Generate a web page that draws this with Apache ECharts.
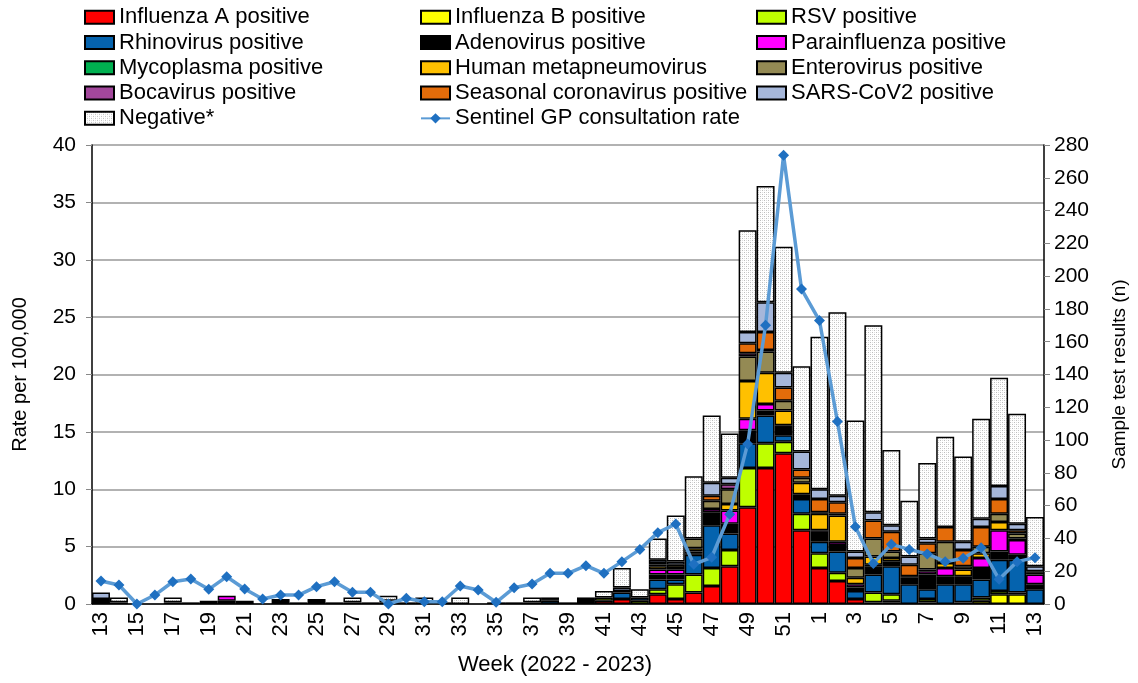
<!DOCTYPE html>
<html>
<head>
<meta charset="utf-8">
<script src="https://cdn.jsdelivr.net/npm/echarts/dist/echarts.min.js"></script>
<style>
  html, body { margin: 0; padding: 0; background: #fff; }
  #chart { width: 1138px; height: 683px; }
</style>
</head>
<body>
<div id="chart"></div>
<script>
// weeks 13-52 of 2022, then 1-13 of 2023
const weeks = ["13","14","15","16","17","18","19","20","21","22","23","24","25","26","27","28","29","30","31","32",
  "33","34","35","36","37","38","39","40","41","42","43","44","45","46","47","48","49","50","51","52",
  "1","2","3","4","5","6","7","8","9","10","11","12","13"];

// sample test results (n)
const fluA    = [0,0,0,0,0,0,0,0,0,0,0,0,0,0,0,0,0,0,0,0,0,0,0,0,0,0,0,0,2,3,0,6,3,7,11,23,59,83,92,45,22,14,3,1,1,0,0,0,0,0,0,0,0];
const fluB    = [0,0,0,0,0,0,0,0,0,0,0,0,0,0,0,0,0,0,0,0,0,0,0,0,0,0,0,0,0,0,0,0,0,0,0,0,0,0,0,0,0,0,0,0,1,0,1,0,1,2,6,6,0];
const rsv     = [0,0,0,0,0,0,0,0,0,0,0,0,0,0,0,0,1,0,0,0,0,0,0,0,0,0,0,0,2,0,2,3,9,11,11,10,24,15,7,10,9,5,0,6,4,0,2,0,0,2,2,1,0];
const rhino   = [0,0,0,0,0,0,0,0,0,0,0,0,0,0,0,0,0,0,0,0,0,0,0,0,0,2,0,0,0,4,2,6,3,12,26,10,15,17,4,9,7,13,5,11,17,12,6,12,11,11,19,20,9];
const adeno   = [3,1,0,0,0,1,2,2,2,0,3,1,3,0,1,1,1,1,1,1,0,0,1,0,1,1,1,3,0,1,0,3,3,1,8,6,8,3,6,3,6,4,2,5,2,4,9,5,5,7,5,3,3];
const para    = [0,0,0,0,0,0,0,3,0,0,0,0,0,0,0,0,0,0,0,0,0,0,0,0,0,0,0,0,0,0,0,3,3,1,2,8,7,4,0,0,1,2,2,1,1,0,2,5,0,6,13,9,6];
const myco    = [0,0,0,0,0,0,0,0,0,0,0,0,0,0,0,0,0,0,0,0,0,0,0,0,0,0,0,0,0,0,0,0,0,0,0,0,0,0,0,0,0,0,0,0,0,0,0,0,0,0,0,0,0];
const hmpv    = [0,0,0,0,0,0,0,0,0,0,0,0,0,0,0,0,0,0,0,0,0,0,0,0,0,0,0,0,0,0,0,2,1,2,0,4,23,19,9,7,10,16,4,5,2,1,1,3,4,3,5,1,1];
const entero  = [0,0,0,0,1,0,0,0,0,0,0,0,0,0,0,0,0,0,0,0,0,0,0,0,0,0,0,0,0,0,0,1,2,6,5,9,15,13,6,3,1,1,6,11,4,0,10,13,2,4,5,3,0];
const boca    = [0,0,0,0,0,0,0,0,0,0,0,0,0,0,0,0,0,0,0,0,0,0,0,0,0,0,0,0,0,0,0,0,0,0,0,3,2,1,0,0,0,0,0,0,0,0,0,0,0,0,0,0,0];
const corona  = [0,0,0,0,0,0,0,0,0,0,0,0,0,0,0,0,0,0,0,0,0,0,0,0,0,0,0,0,0,0,0,1,0,0,3,0,6,11,8,5,8,7,6,11,12,7,6,9,10,12,9,2,1];
const sars    = [4,0,0,0,0,0,0,0,0,0,0,0,0,0,0,0,0,0,0,0,0,0,0,0,0,1,0,0,0,2,0,2,2,0,8,4,7,18,9,11,6,4,4,5,4,5,3,0,5,5,8,4,3];
const negative= [0,3,0,0,3,0,0,0,0,0,0,0,0,1,3,0,3,0,3,0,4,0,0,1,3,0,0,1,4,12,5,13,28,38,41,27,62,71,77,52,93,112,80,114,46,34,46,55,52,61,66,67,30];

// Sentinel GP consultation rate per 100,000
const gpRate  = [2.0,1.65,0,0.78,1.94,2.18,1.28,2.38,1.31,0.44,0.78,0.78,1.51,1.94,1.02,1.02,0,0.5,0.2,0.2,
  1.57,1.22,0.15,1.42,1.74,2.67,2.67,3.34,2.67,3.69,4.76,6.22,6.97,3.46,4.07,7.82,13.95,24.3,39.1,27.45,
  24.7,15.9,6.74,3.54,5.2,4.76,4.36,3.69,3.98,4.91,2.15,3.69,4.04];

// 点状填充 (Negative*)
function dotPattern() {
  let c = document.createElement("canvas");
  c.width = 4;
  c.height = 4;
  let g = c.getContext("2d");
  g.fillStyle = "#ffffff";
  g.fillRect(0, 0, 4, 4);
  g.fillStyle = "#bdbdbd";
  g.fillRect(0, 0, 1, 1);
  g.fillRect(2, 2, 1, 1);
  g.fillStyle = "#dedede";
  g.fillRect(2, 0, 1, 1);
  g.fillRect(0, 2, 1, 1);
  return c;
}

const barDefs = [
  ["Influenza A positive", fluA, "#ff0000"],
  ["Influenza B positive", fluB, "#ffff00"],
  ["RSV positive", rsv, "#bfff00"],
  ["Rhinovirus positive", rhino, "#0563ae"],
  ["Adenovirus positive", adeno, "#000000"],
  ["Parainfluenza positive", para, "#ff00ff"],
  ["Mycoplasma positive", myco, "#00b050"],
  ["Human metapneumovirus", hmpv, "#ffc000"],
  ["Enterovirus positive", entero, "#948a54"],
  ["Bocavirus positive", boca, "#a3479c"],
  ["Seasonal coronavirus positive", corona, "#e46c0a"],
  ["SARS-CoV2 positive", sars, "#a6b7da"],
  ["Negative*", negative, { image: dotPattern(), repeat: "repeat" }]
];
const lineName = "Sentinel GP consultation rate";

let series = barDefs.map(function (d) {
  return {
    name: d[0],
    type: "bar",
    stack: "n",
    yAxisIndex: 1,
    barCategoryGap: "0%",
    itemStyle: { color: d[2], borderColor: "#000", borderWidth: 1.5 },
    data: d[1].map(function (v) { return v === 0 ? "-" : v; })
  };
});
series.push({
  name: lineName,
  type: "line",
  yAxisIndex: 0,
  z: 5,
  symbol: "diamond",
  symbolSize: 11,
  lineStyle: { color: "#5b9bd5", width: 3.5 },
  itemStyle: { color: "#1f70c1" },
  data: gpRate
});

// 三列图例
function legendCol(names, left) {
  return {
    orient: "vertical",
    left: left,
    top: 6,
    padding: 0,
    itemGap: 3,
    itemWidth: 29,
    itemHeight: 13,
    textStyle: { fontFamily: "Liberation Sans, Arial", fontSize: 22, color: "#000", lineHeight: 22.3 },
    data: names.map(function (n) { return n === lineName ? { name: n } : { name: n, icon: "rect" }; })
  };
}
const col = function (i) { return barDefs.map(function (d) { return d[0]; }).concat([lineName]).filter(function (n, k) { return k % 3 === i; }); };

let myChart = echarts.init(document.getElementById("chart"));
myChart.setOption({
  animation: false,
  textStyle: { fontFamily: "Liberation Sans, Arial" },
  legend: [legendCol(col(0), 84), legendCol(col(1), 420), legendCol(col(2), 756)],
  grid: { left: 92, right: 94, top: 145, bottom: 79 },
  xAxis: {
    type: "category",
    data: weeks,
    name: "Week (2022 - 2023)",
    nameLocation: "middle",
    nameGap: 50,
    nameTextStyle: { fontSize: 22, color: "#000", padding: [0, 26, 0, 0] },
    axisLine: { lineStyle: { color: "#000", width: 1.5 } },
    axisTick: { interval: 0, length: 6, lineStyle: { color: "#888" } },
    axisLabel: { interval: 1, rotate: 90, fontSize: 22, color: "#000", margin: 8 }
  },
  yAxis: [
    {
      type: "value",
      min: 0,
      max: 40,
      interval: 5,
      name: "Rate per 100,000",
      nameLocation: "middle",
      nameGap: 62,
      nameTextStyle: { fontSize: 20, color: "#000" },
      axisLine: { show: true, lineStyle: { color: "#000", width: 1.5 } },
      axisTick: { show: true, length: 6, lineStyle: { color: "#888" } },
      axisLabel: { fontSize: 21, color: "#000", margin: 16 },
      splitLine: { lineStyle: { color: "#999", width: 1.5 } }
    },
    {
      type: "value",
      min: 0,
      max: 280,
      interval: 20,
      name: "Sample test results (n)",
      nameLocation: "middle",
      nameGap: 66,
      nameRotate: 90,
      nameTextStyle: { fontSize: 19, color: "#000" },
      axisLine: { show: true, lineStyle: { color: "#000", width: 1.5 } },
      axisTick: { show: true, length: 6, lineStyle: { color: "#888" } },
      axisLabel: { fontSize: 21, color: "#000", margin: 10 },
      splitLine: { show: false }
    }
  ],
  series: series
});
</script>
</body>
</html>
